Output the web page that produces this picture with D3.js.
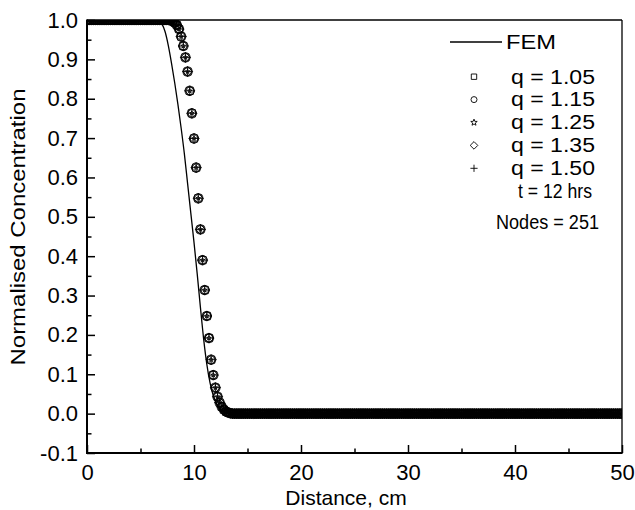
<!DOCTYPE html>
<html>
<head>
  <meta charset="utf-8">
  <style>
    html, body {
      margin: 0;
      overflow: hidden;
      background: #fff;
    }
    svg {
      display: block;
      font-family: "Liberation Sans", Arial, sans-serif;
    }
    .axis text {
      font-size: 22px;
      fill: #000;
    }
    .axis line {
      stroke: #000;
      stroke-width: 1.5px;
    }
    .axis path.domain {
      display: none;
    }
    .title {
      font-size: 21px;
    }
    .legend text {
      font-size: 19.5px;
    }
    .legend text.note {
      font-size: 20.5px;
    }
    .mark {
      fill: none;
      stroke: #000;
      stroke-width: 0.9px;
    }
  </style>
  <script src="https://cdn.jsdelivr.net/npm/d3@7"></script>
</head>
<body>
  <svg id="chart" width="635" height="510"></svg>
  <script>
    // distance axis and node grid
    var xTicks = [0, 10, 20, 30, 40, 50];
    var xMinor = [5, 15, 25, 35, 45];
    var yTicks = [-0.1, 0.0, 0.1, 0.2, 0.3, 0.4, 0.5, 0.6, 0.7, 0.8, 0.9, 1.0];
    var yTickLabels = ["-0.1", "0.0", "0.1", "0.2", "0.3", "0.4", "0.5", "0.6", "0.7", "0.8", "0.9", "1.0"];
    var yMinor = [-0.05, 0.05, 0.15, 0.25, 0.35, 0.45, 0.55, 0.65, 0.75, 0.85, 0.95];
    var NODES = 251;
    var LENGTH = 50;

    // FEM reference solution (solid line)
    var femX = [0, 6.6, 7.0, 7.3, 7.6, 7.9, 8.2, 8.5, 8.8, 9.1, 9.4, 9.7, 10.0, 10.3, 10.6, 10.9,
                11.2, 11.5, 11.8, 12.1, 12.4, 12.7, 13.0, 13.3, 50];
    var femY = [1, 1, 0.99, 0.97, 0.935, 0.89, 0.84, 0.785, 0.725, 0.66, 0.585, 0.51, 0.435, 0.355, 0.27, 0.19,
                0.125, 0.078, 0.046, 0.026, 0.013, 0.006, 0.002, 0, 0];

    // concentration at each of the 251 nodes (all q values coincide at this scale)
    var qNodeValues = [
      1, 1, 1, 1, 1, 1, 1, 1, 1, 1, 1, 1, 1,
      1, 1, 1, 1, 1, 1, 1, 1, 1, 1, 1, 1, 1,
      1, 1, 1, 1, 1, 1, 1, 1, 1, 1, 1, 1, 1,
      0.999, 0.997, 0.993, 0.987, 0.977, 0.958, 0.934, 0.905, 0.869, 0.820,
      0.763, 0.699, 0.625, 0.547, 0.468, 0.390, 0.314, 0.248, 0.192, 0.137,
      0.098, 0.066, 0.043, 0.028, 0.017, 0.010, 0.005, 0.003, 0.001,
      0, 0, 0, 0, 0, 0, 0, 0, 0, 0, 0, 0, 0, 0, 0, 0, 0, 0, 0, 0,
      0, 0, 0, 0, 0, 0, 0, 0, 0, 0, 0, 0, 0, 0, 0, 0, 0, 0, 0, 0,
      0, 0, 0, 0, 0, 0, 0, 0, 0, 0, 0, 0, 0, 0, 0, 0, 0, 0, 0, 0,
      0, 0, 0, 0, 0, 0, 0, 0, 0, 0, 0, 0, 0, 0, 0, 0, 0, 0, 0, 0,
      0, 0, 0, 0, 0, 0, 0, 0, 0, 0, 0, 0, 0, 0, 0, 0, 0, 0, 0, 0,
      0, 0, 0, 0, 0, 0, 0, 0, 0, 0, 0, 0, 0, 0, 0, 0, 0, 0, 0, 0,
      0, 0, 0, 0, 0, 0, 0, 0, 0, 0, 0, 0, 0, 0, 0, 0, 0, 0, 0, 0,
      0, 0, 0, 0, 0, 0, 0, 0, 0, 0, 0, 0, 0, 0, 0, 0, 0, 0, 0, 0,
      0, 0, 0, 0, 0, 0, 0, 0, 0, 0, 0, 0, 0, 0, 0, 0, 0, 0, 0, 0,
      0, 0, 0
    ];

    var qLabels = ["q = 1.05", "q = 1.15", "q = 1.25", "q = 1.35", "q = 1.50"];
    var qValues = [qNodeValues, qNodeValues, qNodeValues, qNodeValues, qNodeValues];
    var notes = ["t = 12 hrs", "Nodes = 251"];

    // symbol shapes, size = radius in px
    var symSquare = {draw: function(ctx, r){ ctx.rect(-r, -r, 2 * r, 2 * r); }};
    var symCircle = {draw: function(ctx, r){ ctx.moveTo(r, 0); ctx.arc(0, 0, r, 0, 2 * Math.PI); }};
    var symStar = {draw: function(ctx, r){
      for (var i = 0; i < 10; i++) {
        var a = -Math.PI / 2 + i * Math.PI / 5;
        var rr = i % 2 ? r * 0.42 : r;
        if (i === 0) ctx.moveTo(rr * Math.cos(a), rr * Math.sin(a));
        else ctx.lineTo(rr * Math.cos(a), rr * Math.sin(a));
      }
      ctx.closePath();
    }};
    var symDiamond = {draw: function(ctx, r){
      ctx.moveTo(0, -r); ctx.lineTo(r, 0); ctx.lineTo(0, r); ctx.lineTo(-r, 0); ctx.closePath();
    }};
    var symPlus = {draw: function(ctx, r){
      ctx.moveTo(-r, 0); ctx.lineTo(r, 0); ctx.moveTo(0, -r); ctx.lineTo(0, r);
    }};
    var symbols = [symSquare, symCircle, symStar, symDiamond, symPlus];
    var plotSizes = [3.6, 4.7, 2.4, 5.0, 5.0];
    var legendSizes = [2.7, 3.0, 3.4, 3.8, 3.6];

    var margin = {top: 20, right: 13, bottom: 57, left: 87};
    var width = 635 - margin.left - margin.right;
    var height = 510 - margin.top - margin.bottom;

    var x = d3.scaleLinear().domain([0, LENGTH]).range([0, width]);
    var y = d3.scaleLinear().domain([-0.1, 1.0]).range([height, 0]);

    var svg = d3.select("#chart");

    svg.append("defs").append("clipPath")
      .attr("id", "plotClip")
      .append("rect")
      .attr("width", width)
      .attr("height", height);

    var focus = svg.append("g")
      .attr("transform", "translate(" + margin.left + "," + margin.top + ")");

    // ticks point inward
    focus.append("g")
      .attr("class", "axis")
      .call(d3.axisLeft(y).tickValues(yTicks).tickSizeInner(-8).tickSizeOuter(0).tickPadding(9)
        .tickFormat(function(d, i){ return yTickLabels[i]; }));
    focus.append("g")
      .attr("class", "axis")
      .call(d3.axisLeft(y).tickValues(yMinor).tickSizeInner(-4.5).tickSizeOuter(0).tickFormat(""));
    focus.append("g")
      .attr("class", "axis")
      .attr("transform", "translate(0," + height + ")")
      .call(d3.axisBottom(x).tickValues(xTicks).tickSizeInner(-8).tickSizeOuter(0).tickPadding(11)
        .tickFormat(d3.format("d")));
    focus.append("g")
      .attr("class", "axis")
      .attr("transform", "translate(0," + height + ")")
      .call(d3.axisBottom(x).tickValues(xMinor).tickSizeInner(-4.5).tickSizeOuter(0).tickFormat(""));

    var plot = focus.append("g").attr("clip-path", "url(#plotClip)");

    var femLine = d3.line()
      .x(function(d){ return x(d[0]); })
      .y(function(d){ return y(d[1]); })
      .curve(d3.curveMonotoneX);

    plot.append("path")
      .datum(femX.map(function(v, i){ return [v, femY[i]]; }))
      .attr("d", femLine)
      .attr("fill", "none")
      .attr("stroke", "#000")
      .attr("stroke-width", 1.3);

    qValues.forEach(function(vals, s){
      var pts = vals.map(function(v, i){ return [i * LENGTH / (NODES - 1), v]; });
      plot.append("g")
        .attr("class", "series")
        .selectAll("path")
        .data(pts)
        .enter().append("path")
        .attr("class", "mark")
        .attr("transform", function(d){ return "translate(" + x(d[0]) + "," + y(d[1]) + ")"; })
        .attr("d", d3.symbol().type(symbols[s]).size(plotSizes[s]));
    });

    // frame
    focus.append("line").attr("x1", 0).attr("x2", width).attr("y1", 0).attr("y2", 0)
      .attr("stroke", "#000").attr("stroke-width", 1.3);
    focus.append("line").attr("x1", width).attr("x2", width).attr("y1", 0).attr("y2", height)
      .attr("stroke", "#000").attr("stroke-width", 1.3);
    focus.append("line").attr("x1", 0).attr("x2", 0).attr("y1", -0.6).attr("y2", height + 1)
      .attr("stroke", "#000").attr("stroke-width", 2);
    focus.append("line").attr("x1", -1).attr("x2", width + 0.6).attr("y1", height).attr("y2", height)
      .attr("stroke", "#000").attr("stroke-width", 2);

    svg.append("text")
      .attr("class", "title")
      .attr("x", 346)
      .attr("y", 505)
      .attr("text-anchor", "middle")
      .text("Distance, cm");

    svg.append("text")
      .attr("class", "title")
      .attr("transform", "translate(25,227) rotate(-90)")
      .attr("text-anchor", "middle")
      .attr("textLength", 277)
      .attr("lengthAdjust", "spacingAndGlyphs")
      .text("Normalised Concentration");

    // legend
    var legend = svg.append("g").attr("class", "legend");
    legend.append("line")
      .attr("x1", 450).attr("x2", 502).attr("y1", 42).attr("y2", 42)
      .attr("stroke", "#000").attr("stroke-width", 1.3);
    legend.append("text").attr("x", 506).attr("y", 49)
      .attr("textLength", 50).attr("lengthAdjust", "spacingAndGlyphs")
      .text("FEM");

    qLabels.forEach(function(label, s){
      var ly = 76.7 + s * 22.9;
      legend.append("path")
        .attr("class", "mark")
        .attr("transform", "translate(474," + ly + ")")
        .attr("d", d3.symbol().type(symbols[s]).size(legendSizes[s]));
      legend.append("text").attr("x", 511).attr("y", ly + 6.8)
        .attr("textLength", 84).attr("lengthAdjust", "spacingAndGlyphs")
        .text(label);
    });

    legend.append("text").attr("class", "note").attr("x", 518).attr("y", 198)
      .attr("textLength", 74).attr("lengthAdjust", "spacingAndGlyphs")
      .text(notes[0]);
    legend.append("text").attr("class", "note").attr("x", 496).attr("y", 229)
      .attr("textLength", 103).attr("lengthAdjust", "spacingAndGlyphs")
      .text(notes[1]);
  </script>
</body>
</html>
